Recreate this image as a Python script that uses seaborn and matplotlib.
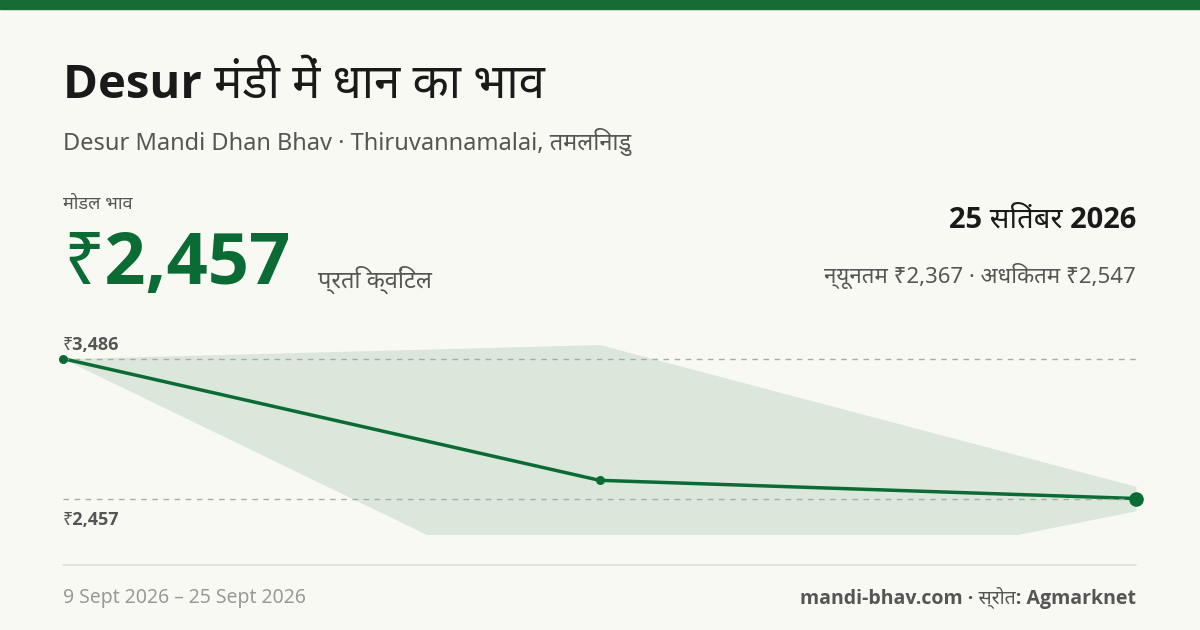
import matplotlib
matplotlib.use("Agg")
import matplotlib.pyplot as plt
import seaborn as sns
import pandas as pd

dates = pd.to_datetime(["2026-09-09", "2026-09-17", "2026-09-25"])
modal = [3486, 2591, 2457]
min_price = [3486, 1577, 2367]
max_price = [3486, 3590, 2547]

sns.set_theme(style="white")
plt.rcParams['font.family'] = ['Noto Sans', 'DejaVu Sans']
BOLD = ['Open Sans', 'Noto Sans', 'DejaVu Sans']

BG = "#f9f9f4"
GREEN = "#0b6b35"
fig = plt.figure(figsize=(12, 6.3), dpi=100, facecolor=BG)

fig.patches.append(plt.Rectangle((0, 1 - 9/630), 1, 9/630, transform=fig.transFigure, color="#176b35", zorder=5))

def fy(py): return 1 - py / 630
def fx(px): return px / 1200

fig.text(fx(63), fy(85), "Desur मंडी में धान का भाव", fontsize=34, fontweight="bold", family=BOLD, color="#1a1a1a", va="center")
fig.text(fx(63), fy(142), "Desur Mandi Dhan Bhav · Thiruvannamalai, तमलिनाडु", fontsize=17, color="#555555", va="center")
fig.text(fx(63), fy(204), "मोडल भाव", fontsize=13, color="#555555", va="center")
fig.text(fx(63), fy(265), "₹2,457", fontsize=52, fontweight="bold", family=BOLD, color=GREEN, va="center")
fig.text(fx(318), fy(280), "प्रति क्विंटल", fontsize=17, color="#555555", va="center")
fig.text(fx(1136), fy(220), "25 सितंबर 2026", fontsize=21, fontweight="bold", family=BOLD, color="#1a1a1a", va="center", ha="right")
fig.text(fx(1136), fy(276), "न्यूनतम ₹2,367 · अधिकतम ₹2,547", fontsize=16, color="#555555", va="center", ha="right")
fig.text(fx(63), fy(598), "9 Sept 2026 – 25 Sept 2026", fontsize=14, color="#999999", va="center")
fig.text(fx(1136), fy(598), "mandi-bhav.com · स्रोत: Agmarknet", fontsize=14, fontweight="bold", family=BOLD, color="#555555", va="center", ha="right")
fig.add_artist(plt.Line2D([fx(63), fx(1136)], [fy(565), fy(565)], transform=fig.transFigure, color="#dddddd", lw=1.2))

ax = fig.add_axes([fx(63), fy(534), fx(1136) - fx(63), (534 - 335) / 630])
ax.set_facecolor("none")
ax.fill_between(dates, min_price, max_price, color="#0b6b35", alpha=0.12, lw=0)
sns.lineplot(x=dates, y=modal, ax=ax, color=GREEN, lw=2.5)
ax.scatter(dates[:2], modal[:2], s=30, color=GREEN, zorder=5, clip_on=False)
ax.scatter(dates[-1:], modal[-1:], s=90, color=GREEN, zorder=5, clip_on=False)
for v in (max(modal), modal[-1]):
    ax.axhline(v, color="#aaaaaa", ls=(0, (4, 4)), lw=1)
ax.set_xlim(dates[0], dates[-1])
ax.set_ylim(2196, 3660)
ax.set_xticks([]); ax.set_yticks([])
ax.set_xlabel(""); ax.set_ylabel("")
for s in ax.spines.values():
    s.set_visible(False)
fig.text(fx(63), fy(345), "₹3,486", fontsize=13, fontweight="bold", family=BOLD, color="#555555", va="center")
fig.text(fx(63), fy(520), "₹2,457", fontsize=13, fontweight="bold", family=BOLD, color="#555555", va="center")

fig.savefig("out.png", dpi=100, facecolor=BG)
